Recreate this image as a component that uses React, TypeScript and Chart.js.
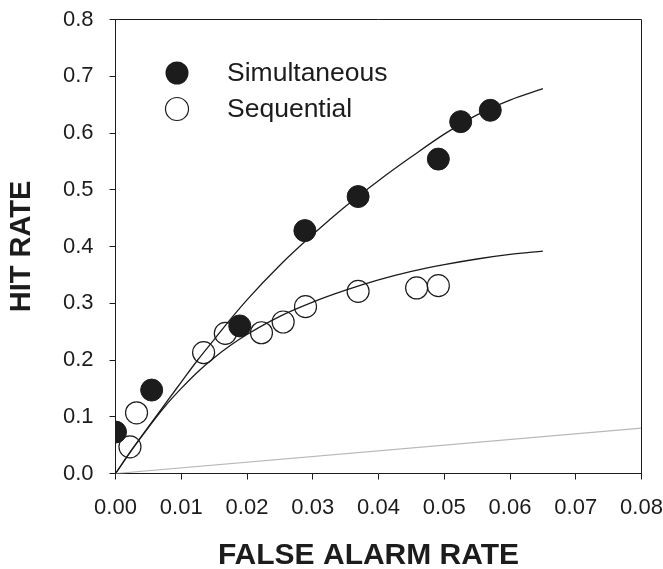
import React, { useEffect, useRef } from "react";
import { Chart, registerables } from "chart.js";

Chart.register(...registerables);

// Observed points
const simFA = [0.0, 0.0055, 0.0189, 0.0288, 0.0369, 0.0491, 0.0525, 0.057];
const simHit = [0.073, 0.147, 0.26, 0.428, 0.488, 0.554, 0.62, 0.64];
const seqFA = [0.0022, 0.0032, 0.0134, 0.0167, 0.0222, 0.0255, 0.0289, 0.0369, 0.0458, 0.0491];
const seqHit = [0.047, 0.107, 0.213, 0.247, 0.248, 0.267, 0.294, 0.321, 0.327, 0.331];

// Fitted curves
const curveFA = [0, 0.0025, 0.005, 0.0075, 0.01, 0.0125, 0.015, 0.0175, 0.02, 0.025, 0.03, 0.035, 0.04, 0.045, 0.05, 0.055, 0.06, 0.065];
const simCurveHit = [0, 0.042, 0.082, 0.122, 0.161, 0.2, 0.236, 0.272, 0.306, 0.367, 0.421, 0.471, 0.516, 0.558, 0.598, 0.632, 0.658, 0.678];
const seqCurveHit = [0, 0.042, 0.081, 0.118, 0.15, 0.179, 0.204, 0.226, 0.245, 0.277, 0.302, 0.323, 0.341, 0.356, 0.368, 0.378, 0.386, 0.392];

// Chance line
const chanceFA = [0, 0.08];
const chanceHit = [0, 0.08];

const legendLabels = ["Simultaneous", "Sequential"];
const xTitle = "FALSE ALARM RATE";
const yTitle = "HIT RATE";

const FONT = "'Liberation Sans', Arial, Helvetica, sans-serif";
const INK = "#1c1c1c";

const pts = (xs: number[], ys: number[]) => xs.map((x, i) => ({ x, y: ys[i] }));

const frameAndLegend = {
  id: "frameAndLegend",
  afterDraw(chart: any) {
    const { ctx, chartArea } = chart;
    const { left, right, top, bottom } = chartArea;
    ctx.save();
    ctx.strokeStyle = INK;
    ctx.lineWidth = 1;
    ctx.beginPath();
    ctx.moveTo(left, top);
    ctx.lineTo(right, top);
    ctx.lineTo(right, bottom);
    ctx.stroke();

    // x-axis title (slightly left of centre, as in the figure)
    ctx.fillStyle = INK;
    ctx.font = `bold 30px ${FONT}`;
    ctx.textAlign = "center";
    ctx.textBaseline = "middle";
    ctx.fillText(xTitle, 368.5, 556);

    // legend
    const mx = 177;
    const rows = [73, 109];
    rows.forEach((cy, i) => {
      ctx.beginPath();
      ctx.arc(mx, cy, 11.5, 0, Math.PI * 2);
      if (i === 0) {
        ctx.fillStyle = INK;
        ctx.fill();
      } else {
        ctx.fillStyle = "#fff";
        ctx.fill();
        ctx.strokeStyle = INK;
        ctx.lineWidth = 1.2;
        ctx.stroke();
      }
      ctx.fillStyle = INK;
      ctx.font = `26.5px ${FONT}`;
      ctx.textAlign = "left";
      ctx.textBaseline = "middle";
      ctx.fillText(legendLabels[i], 227, cy + 1);
    });
    ctx.restore();
  },
};

export default function App() {
  const ref = useRef<HTMLCanvasElement | null>(null);
  useEffect(() => {
    if (!ref.current) return;
    const chart = new Chart(ref.current, {
      type: "scatter",
      data: {
        datasets: [
          {
            label: "Simultaneous",
            data: pts(simFA, simHit),
            pointRadius: 11,
            pointBackgroundColor: INK,
            pointBorderColor: INK,
            pointBorderWidth: 1,
            showLine: false,
            order: 0,
          },
          {
            label: "Sequential",
            data: pts(seqFA, seqHit),
            pointRadius: 11,
            pointBackgroundColor: "rgba(255,255,255,0)",
            pointBorderColor: INK,
            pointBorderWidth: 1.2,
            showLine: false,
            order: 1,
          },
          {
            label: "Simultaneous fit",
            data: pts(curveFA, simCurveHit),
            showLine: true,
            pointRadius: 0,
            borderColor: INK,
            borderWidth: 1.3,
            cubicInterpolationMode: "monotone",
            order: 2,
          },
          {
            label: "Sequential fit",
            data: pts(curveFA, seqCurveHit),
            showLine: true,
            pointRadius: 0,
            borderColor: INK,
            borderWidth: 1.3,
            cubicInterpolationMode: "monotone",
            order: 3,
          },
          {
            label: "Chance",
            data: pts(chanceFA, chanceHit),
            showLine: true,
            pointRadius: 0,
            borderColor: "#b8b8b8",
            borderWidth: 1.2,
            order: 4,
          },
        ],
      },
      options: {
        animation: false,
        responsive: false,
        events: [],
        layout: { padding: { left: 0, right: 21.5, top: 19.5, bottom: 0 } },
        plugins: { legend: { display: false }, tooltip: { enabled: false } },
        scales: {
          x: {
            type: "linear",
            min: 0,
            max: 0.08,
            afterFit(scale: any) {
              scale.height = 95.5;
              scale.paddingLeft = 0;
              scale.paddingRight = 0;
            },
            ticks: {
              stepSize: 0.01,
              color: INK,
              padding: 15,
              maxRotation: 0,
              font: { size: 22, family: FONT },
              callback: (v: any) => Number(v).toFixed(2),
            },
            grid: { display: true, drawOnChartArea: false, drawTicks: true, tickLength: 6, color: INK, lineWidth: 1 },
            border: { display: true, color: INK, width: 1 },
            title: { display: false, text: xTitle },
          },
          y: {
            type: "linear",
            min: 0,
            max: 0.8,
            afterFit(scale: any) {
              scale.width = 115.5;
              scale.paddingTop = 0;
              scale.paddingBottom = 0;
            },
            ticks: {
              stepSize: 0.1,
              color: INK,
              padding: 16,
              font: { size: 22, family: FONT },
              callback: (v: any) => Number(v).toFixed(1),
            },
            grid: { display: true, drawOnChartArea: false, drawTicks: true, tickLength: 6, color: INK, lineWidth: 1 },
            border: { display: true, color: INK, width: 1 },
            title: {
              display: true,
              text: yTitle,
              color: INK,
              font: { size: 29, weight: "bold", family: FONT, lineHeight: 1.2 },
              padding: { top: 5, bottom: 0 },
            },
          },
        },
      },
      plugins: [frameAndLegend],
    });
    return () => chart.destroy();
  }, []);

  return (
    <div style={{ position: "fixed", left: 0, top: 0, width: 663, height: 569, background: "#fff" }}>
      <canvas ref={ref} width={663} height={569} style={{ display: "block", width: 663, height: 569 }} />
    </div>
  );
}
